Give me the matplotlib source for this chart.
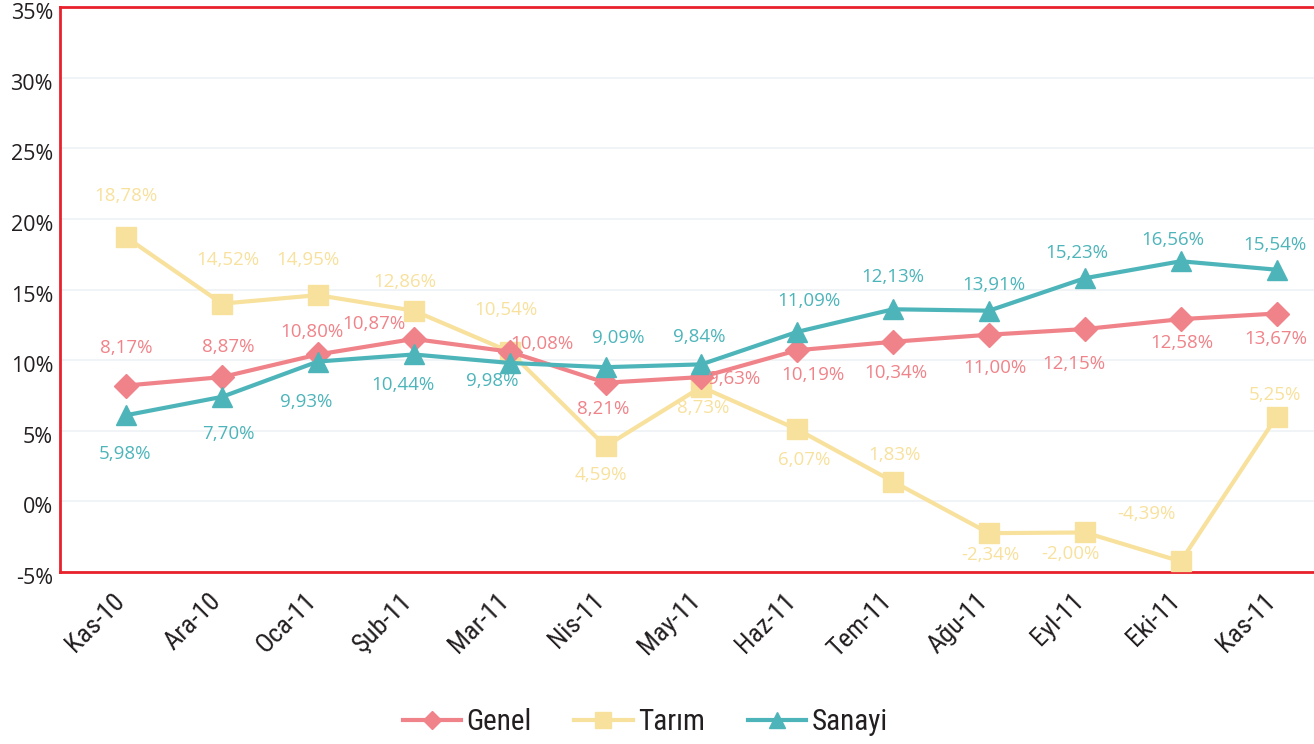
import matplotlib.pyplot as plt
import matplotlib.font_manager as fm
import matplotlib.transforms as mtransforms
import numpy as np

# months
months = ['Kas-10', 'Ara-10', 'Oca-11', 'Şub-11', 'Mar-11', 'Nis-11', 'May-11',
          'Haz-11', 'Tem-11', 'Ağu-11', 'Eyl-11', 'Eki-11', 'Kas-11']

# values as drawn on the chart
genel = [8.2, 8.8, 10.4, 11.5, 10.6, 8.4, 8.8, 10.7, 11.3, 11.8, 12.2, 12.9, 13.3]
tarim = [18.7, 14.0, 14.6, 13.5, 10.6, 3.9, 8.1, 5.1, 1.4, -2.25, -2.2, -4.25, 6.0]
sanayi = [6.1, 7.4, 9.9, 10.4, 9.8, 9.5, 9.7, 12.0, 13.6, 13.5, 15.8, 17.0, 16.4]

# label texts printed next to the points
genel_lbl = ['8,17%', '8,87%', '10,80%', '10,87%', '10,08%', '8,21%', '9,63%',
             '10,19%', '10,34%', '11,00%', '12,15%', '12,58%', '13,67%']
tarim_lbl = ['18,78%', '14,52%', '14,95%', '12,86%', '10,54%', '4,59%', '8,73%',
             '6,07%', '1,83%', '-2,34%', '-2,00%', '-4,39%', '5,25%']
sanayi_lbl = ['5,98%', '7,70%', '9,93%', '10,44%', '9,98%', '9,09%', '9,84%',
              '11,09%', '12,13%', '13,91%', '15,23%', '16,56%', '15,54%']

# label offsets in pixels (dx, dy on image, y down)
genel_off = [(0, -38), (6, -30), (-6, -22), (-40, -15), (32, -8), (-2, 26), (33, 2),
             (16, 25), (3, 31), (6, 33), (-11, 35), (1, 24), (-1, 25)]
tarim_off = [(0, -41), (6, -44), (-10, -35), (-9, -29), (-4, -42), (-5, 29), (2, 21),
             (7, 31), (1, -27), (1, 22), (-14, 22), (-34, -47), (-2, -22)]
sanayi_off = [(-1, 39), (6, 37), (-12, 40), (-11, 31), (-17, 18), (13, -29), (-2, -27),
              (12, -31), (0, -32), (5, -26), (-8, -25), (-8, -21), (-2, -25)]

c_genel = '#F08389'
c_tarim = '#F8E19D'
c_sanayi = '#4DB5BA'
c_frame = '#E8212B'

# pick an upright condensed face for axis/legend text if one is around
narrow = fm.FontProperties(family='Liberation Sans')
best = None
for f in fm.fontManager.ttflist:
    if ('Narrow' in f.name or 'ondensed' in f.fname) and f.style == 'normal' \
            and f.weight in (400, 'normal', 'regular'):
        if best is None or 'Regular' in f.fname:
            best = f
if best is not None:
    narrow = fm.FontProperties(fname=best.fname)

lblfont = ['Open Sans', 'DejaVu Sans']

x = np.arange(len(months))

fig = plt.figure(figsize=(13.14, 7.44), dpi=100)
ax = fig.add_axes([60 / 1314, 1 - 572 / 744, 1254 / 1314, 565 / 744])

ax.plot(x, tarim, color=c_tarim, lw=3, marker='s', ms=15, label='Tarım', zorder=3)
ax.plot(x, genel, color=c_genel, lw=3, marker='D', ms=12, label='Genel', zorder=4)
ax.plot(x, sanayi, color=c_sanayi, lw=3, marker='^', ms=14, label='Sanayi', zorder=5)

for vals, lbls, offs, col in [(genel, genel_lbl, genel_off, c_genel),
                              (tarim, tarim_lbl, tarim_off, c_tarim),
                              (sanayi, sanayi_lbl, sanayi_off, c_sanayi)]:
    for i in range(len(vals)):
        ax.annotate(lbls[i], (x[i], vals[i]), xytext=(offs[i][0], -offs[i][1]),
                    textcoords='offset pixels', ha='center', va='center',
                    color=col, fontsize=13.5, family=lblfont, zorder=6)

ax.set_ylim(-5, 35)
ax.set_yticks(np.arange(-5, 36, 5))
ax.set_yticklabels([f'{v}%' for v in range(-5, 36, 5)], family=lblfont, fontsize=15.5,
                   color='#231F20')

ax.set_xlim(-0.69, 12.39)
ax.set_xticks(x)
xfont = narrow.copy()
xfont.set_size(19)
ax.set_xticklabels(months, rotation=45, ha='right', va='center', rotation_mode='anchor',
                   fontproperties=xfont, color='#231F20')
ax.tick_params(length=0)
ax.tick_params(axis='x', pad=18)
ax.tick_params(axis='y', pad=5)

# small nudges of the tick labels (after tick_params, which resets transforms)
yshift = mtransforms.ScaledTranslation(0, -4 / 100, fig.dpi_scale_trans)
for t in ax.get_yticklabels():
    t.set_transform(t.get_transform() + yshift)
xshift = mtransforms.ScaledTranslation(-5 / 100, 0, fig.dpi_scale_trans)
for t in ax.get_xticklabels():
    t.set_transform(t.get_transform() + xshift)

ax.grid(axis='y', color='#EEF2F5', lw=1.2)
ax.set_axisbelow(True)
for s in ['left', 'top', 'bottom']:
    ax.spines[s].set_color(c_frame)
    ax.spines[s].set_linewidth(2)
ax.spines['right'].set_visible(False)

# legend in Genel, Tarım, Sanayi order
h, l = ax.get_legend_handles_labels()
order = [1, 0, 2]
legfont = narrow.copy()
legfont.set_size(21)
leg = fig.legend([h[i] for i in order], [l[i] for i in order],
                 loc='center', bbox_to_anchor=(0.491, 1 - 722 / 744), ncol=3,
                 frameon=False, handlelength=2.0, columnspacing=1.45, handletextpad=0.2,
                 markerscale=0.8, prop=legfont)
for t in leg.get_texts():
    t.set_color('#231F20')

fig.savefig('out.png', dpi=100)
